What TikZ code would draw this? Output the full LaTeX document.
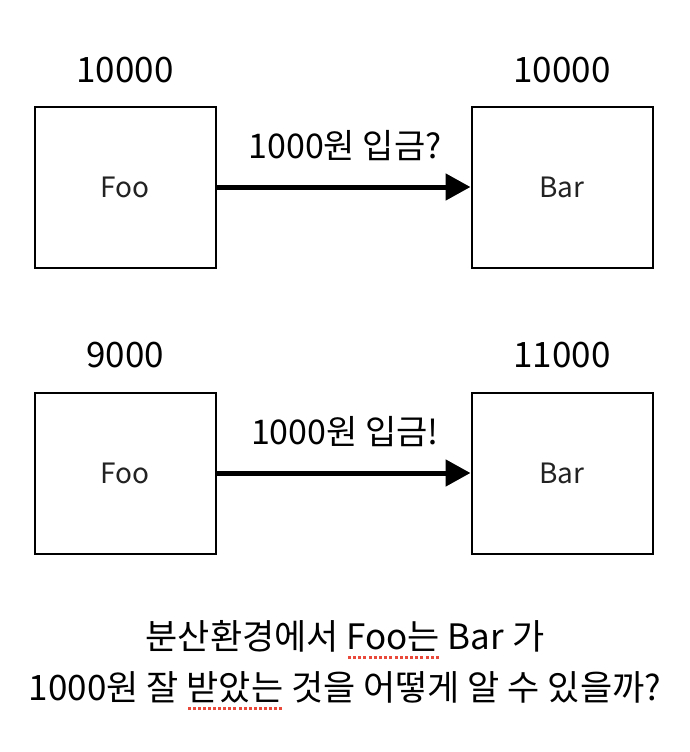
\documentclass[tikz,border=0pt]{standalone}
\usepackage{fontspec}
\usepackage{xcolor}
\usepackage{tikz}
\usetikzlibrary{arrows.meta,positioning}
\setmainfont{Noto Sans CJK KR}
\definecolor{spellred}{HTML}{E8493B}
\definecolor{boxtext}{HTML}{222222}

% dotted red underline under a word
\newcommand\spellmark[1]{\setbox0\hbox{#1}\rlap{\raisebox{-10pt}{\color{spellred}\hbox to \wd0{\xleaders\hbox to 5pt{\hss\rule{3pt}{3pt}\hss}\hfil}}}\box0\relax}

\begin{document}
\begin{tikzpicture}[x=1pt,y=-1pt,
    acct/.style={draw,line width=2pt,minimum width=181pt,minimum height=161pt,inner sep=0pt,
      font=\fontsize{28}{32}\selectfont,text=boxtext},
    balance/.style={font=\fontsize{35}{39}\selectfont},
    transfer/.style={line width=5pt,-{Triangle[length=25pt,width=26pt]}},
    memo/.style={font=\fontsize{34}{38}\selectfont},
    question/.style={font=\fontsize{35}{51}\selectfont,align=center}]
    \useasboundingbox (0,0) rectangle (690,752);
    % before
    \node[acct] (foo1) at (125,187) {Foo};
    \node[acct] (bar1) at (562,187) {Bar};
    \node[balance] (fooval1) at (125,70) {10000};
    \node[balance] (barval1) at (562,70) {10000};
    \draw[transfer] (foo1.east) -- (bar1.west);
    \node[memo] (send1) at (345,146) {1000원 입금?};
    % after
    \node[acct] (foo2) at (125,473) {Foo};
    \node[acct] (bar2) at (562,473) {Bar};
    \node[balance] (fooval2) at (125,355) {9000};
    \node[balance] (barval2) at (562,355) {11000};
    \draw[transfer] (foo2.east) -- (bar2.west);
    \node[memo] (send2) at (345,432) {1000원 입금!};
    % question
    \node[question] (ask) at (345,665) {분산환경에서 \spellmark{Foo는} Bar 가\\1000원 잘 \spellmark{받았는} 것을 어떻게 알 수 있을까?};
\end{tikzpicture}
\end{document}
